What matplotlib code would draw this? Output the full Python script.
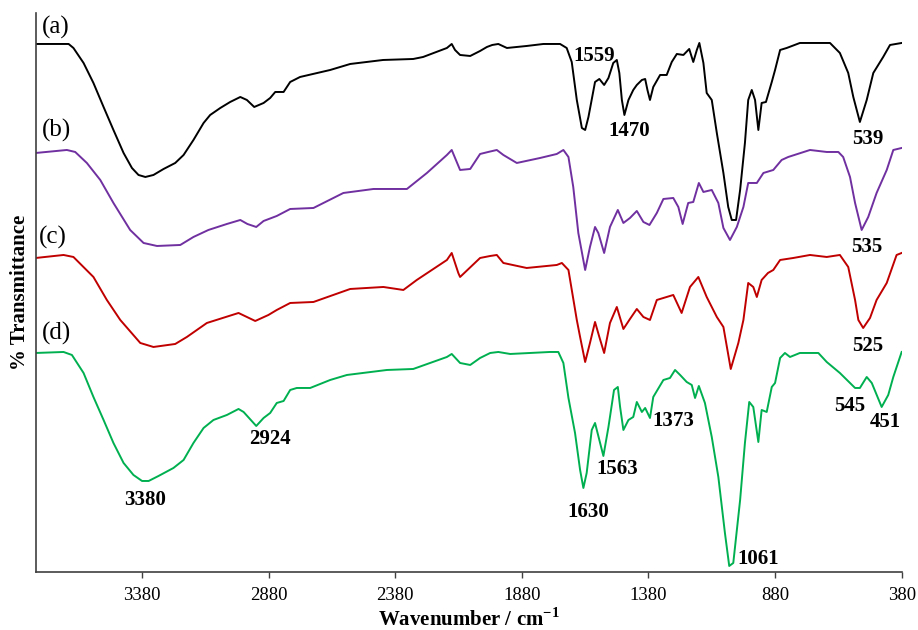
import numpy as np
import matplotlib
matplotlib.use('Agg')
import matplotlib.pyplot as plt

plt.rcParams['font.family'] = ['Liberation Serif', 'DejaVu Serif']
plt.rcParams['mathtext.fontset'] = 'custom'
plt.rcParams['mathtext.rm'] = 'Liberation Serif'
plt.rcParams['mathtext.bf'] = 'Liberation Serif:bold'

# spectrum (a)
wn_a = [3800, 3670, 3651, 3611, 3572, 3532, 3493, 3453, 3420, 3394, 3367, 3335, 3295, 3249, 3216,
        3177, 3137, 3111, 3071, 3032, 2992, 2966, 2937, 2900, 2874, 2854, 2821, 2795, 2756, 2637,
        2558, 2428, 2309, 2270, 2176,
        2157, 2144, 2124, 2084, 2045, 2018, 1997, 1973, 1939, 1861, 1795, 1729, 1703, 1683, 1663,
        1643, 1630, 1617, 1591, 1574, 1555, 1538, 1519, 1505, 1495, 1485, 1475, 1459, 1440, 1426,
        1406, 1393, 1384, 1374, 1361, 1334, 1308, 1288, 1268, 1242, 1219, 1203, 1189, 1179, 1163,
        1150, 1130, 1110, 1084, 1065, 1051, 1034, 1018, 999, 986, 972, 959, 946, 933, 916,
        893, 880, 860, 834, 782, 663, 624, 591, 571, 545, 518, 492, 453, 426, 380]
t_a = [528, 528, 524, 509, 489, 465, 442, 419, 404, 397, 395, 397, 403, 409, 417,
       432, 449, 457, 464, 470, 475, 472, 465, 469, 474, 480, 480, 490, 495, 502,
       508, 512, 513, 515, 524,
       528, 522, 517, 516, 521, 525, 527, 528, 524, 526, 528, 528, 524, 510, 472,
       444, 442, 455, 490, 493, 487, 494, 509, 512, 499, 472, 457, 472, 482, 487,
       492, 493, 482, 472, 485, 497, 497, 510, 518, 517, 523, 510, 522, 529, 509,
       479, 472, 439, 399, 365, 352, 352, 382, 429, 472, 482, 472, 442, 469, 470,
       490, 502, 522, 524, 529, 529, 519, 499, 475, 450, 472, 499, 515, 527, 529]

# spectrum (b)
wn_b = [3800, 3677, 3644, 3598, 3545, 3493, 3427, 3374, 3321, 3229, 3177, 3118, 3045, 2992, 2964,
        2929, 2900, 2848, 2795, 2703, 2585, 2466, 2334, 2255, 2176, 2157, 2124, 2084, 2045, 2013,
        1979, 1953, 1900, 1808, 1742, 1716, 1696, 1677, 1657, 1630, 1611, 1591, 1578, 1555, 1532,
        1501, 1479, 1453, 1426, 1400, 1376, 1347, 1321, 1282, 1262, 1245, 1223, 1203, 1181, 1163,
        1130, 1104, 1084, 1058, 1031, 1005, 986, 952, 926, 887, 854, 828, 742, 676, 630,
        611, 584, 564, 538, 512, 479, 439, 413, 380]
t_b = [419, 422, 420, 409, 392, 369, 342, 329, 326, 327, 335, 342, 348, 352, 348,
       345, 351, 356, 363, 364, 379, 383, 383, 399, 417, 422, 402, 403, 418, 420,
       422, 417, 409, 414, 418, 422, 415, 385, 339, 302, 325, 345, 339, 319, 345,
       362, 349, 354, 361, 350, 347, 359, 373, 374, 365, 348, 369, 370, 389, 380,
       382, 369, 344, 332, 345, 365, 389, 389, 399, 402, 412, 415, 422, 420, 420,
       415, 395, 369, 342, 355, 379, 402, 422, 424]

# spectrum (c)
wn_c = [3800, 3690, 3651, 3572, 3519, 3466, 3387, 3335, 3249, 3203, 3124, 2999, 2933, 2881, 2848,
        2795, 2703, 2558, 2427, 2348, 2295, 2176, 2157, 2131, 2124, 2045, 2005, 1979, 1953, 1861,
        1742, 1722, 1696, 1663, 1650, 1630, 1611, 1591, 1574, 1555, 1532, 1505, 1479, 1453, 1426,
        1400, 1374, 1347, 1282, 1249, 1216, 1183, 1150, 1110, 1084, 1055, 1025, 1005, 986, 966,
        952, 933, 908, 887, 860, 808, 742, 676, 624, 591, 564, 551, 532, 505, 479,
        439, 400, 380]
t_c = [314, 317, 315, 295, 272, 252, 229, 225, 228, 235, 249, 259, 251, 257, 262,
       269, 270, 283, 285, 282, 292, 312, 319, 299, 295, 314, 316, 317, 309, 304,
       307, 309, 302, 252, 235, 210, 229, 250, 235, 219, 249, 265, 243, 253, 263,
       255, 252, 272, 277, 259, 285, 295, 275, 255, 245, 203, 229, 252, 289, 285,
       275, 292, 299, 302, 312, 314, 317, 315, 317, 305, 272, 252, 244, 254, 272,
       289, 317, 319]

# spectrum (d)
wn_d = [3800, 3690, 3657, 3611, 3572, 3532, 3493, 3453, 3414, 3380, 3354, 3315, 3256, 3216, 3177,
        3137, 3098, 3045, 2999, 2979, 2929, 2900, 2874, 2848, 2821, 2795, 2769, 2716, 2637,
        2571, 2413, 2309, 2176, 2157, 2124, 2084, 2045, 2005,
        1973, 1926, 1769, 1736, 1716, 1696, 1670, 1650, 1637, 1624, 1604, 1591, 1574, 1558, 1538,
        1516, 1501, 1492, 1479, 1459, 1440, 1426, 1406, 1393, 1374, 1361, 1321, 1295, 1275, 1255,
        1229, 1209, 1196, 1181, 1157, 1130, 1104, 1078, 1061, 1045, 1018, 999, 982, 966, 946,
        933, 913, 893, 880, 860, 841, 821, 782, 709, 676, 624, 564, 545, 518, 498,
        459, 433, 413, 380]
t_d = [219, 220, 217, 199, 175, 152, 129, 109, 97, 91, 91, 96, 104, 112, 129,
       144, 152, 157, 163, 160, 146, 154, 159, 169, 171, 182, 184, 184, 192,
       197, 202, 203, 215, 218, 209, 207, 214, 219,
       220, 218, 220, 220, 209, 174, 139, 102, 84, 99, 142, 149, 132, 116, 145,
       182, 185, 165, 142, 152, 155, 170, 160, 164, 154, 175, 192, 194, 202, 197,
       190, 187, 174, 186, 169, 135, 95, 39, 6, 9, 72, 129, 170, 165, 130,
       162, 160, 185, 189, 214, 219, 215, 219, 219, 210, 199, 184, 184, 195, 189,
       165, 177, 195, 220]

# peak labels
peak_text = ['1559', '1470', '539', '535', '525', '545', '451', '1373', '1563', '1630', '1061', '3380', '2924']
peak_x = [1595, 1457, 513, 517, 513, 584, 446, 1283, 1504, 1618, 947, 3367, 2874]
peak_y = [516, 441, 433, 325, 226, 166, 150, 151, 103, 60, 13, 72, 133]

curve_names = ['(a)', '(b)', '(c)', '(d)']
name_x = [3719, 3719, 3731, 3719]
name_y = [545, 442, 335, 239]

fig = plt.figure(figsize=(9.18, 6.3), dpi=100)
ax = fig.add_axes([0.0389, 0.0921, 0.9433, 0.8873])

ax.plot(wn_a, t_a, color='black', lw=1.4)
ax.plot(wn_b, t_b, color='#7030A0', lw=1.4)
ax.plot(wn_c, t_c, color='#C00000', lw=1.4)
ax.plot(wn_d, t_d, color='#00B050', lw=1.4)

for s, x, y in zip(peak_text, peak_x, peak_y):
    ax.text(x, y, s, fontsize=15, fontweight='bold', ha='center', va='center')
for s, x, y in zip(curve_names, name_x, name_y):
    ax.text(x, y, s, fontsize=18, ha='center', va='center')

ax.set_xlim(3800, 380)
ax.set_ylim(0, 559)
ax.set_xticks(np.arange(3380, 379, -500))
ax.set_yticks([])
ax.tick_params(axis='x', direction='out', length=4, width=1, labelsize=13.5, pad=7,
               colors='#404040', labelcolor='black')
for side in ['top', 'right']:
    ax.spines[side].set_visible(False)
for side in ['left', 'bottom']:
    ax.spines[side].set_color('#404040')
    ax.spines[side].set_linewidth(1.2)

ax.set_xlabel(r'Wavenumber / cm$^{\mathbf{-1}}$', fontsize=15, fontweight='bold', labelpad=3)
ax.set_ylabel('% Transmittance', fontsize=15, fontweight='bold', labelpad=4)

fig.savefig('out.png', dpi=100)
